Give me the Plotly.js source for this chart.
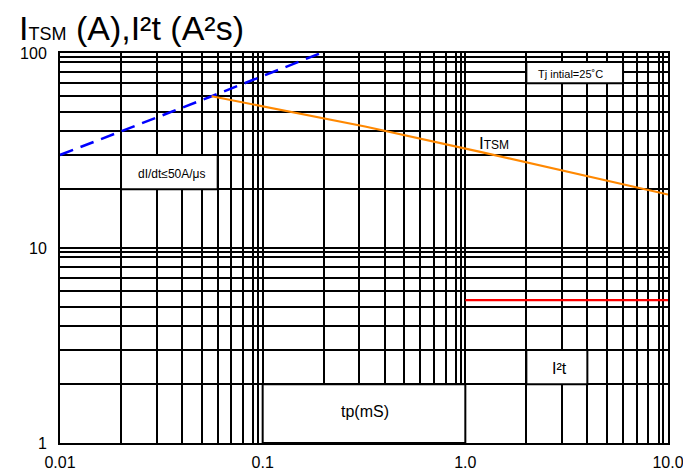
<!DOCTYPE html>
<html>
<head>
<meta charset="utf-8">
<script src="https://cdn.plot.ly/plotly-3.0.1.min.js"></script>
<style>html,body{margin:0;padding:0;background:#fff;}#chart{width:683px;height:470px;}</style>
</head>
<body>
<div id="chart"></div>
<script>
// Data
const dIdtX = [0.01, 0.056, 0.194];
const dIdtY = [30, 60, 100];
const itsmX = [0.056, 0.32, 1.2, 10];
const itsmY = [60, 42, 31, 18.8];
const i2tX = [1, 10];
const i2tY = [5.4, 5.4];
const xTickVals = [0.01, 0.1, 1, 10];
const xTickText = ['0.01', '0.1', '1.0', '10.0'];
const yTickVals = [1, 10, 100];
const yTickText = ['1', '10', '100'];
const gridDigits = [2, 3, 4, 5, 6, 7, 8, 9, 9.5];

const xMinor = [];
[0.01, 0.1, 1].forEach(d => gridDigits.forEach(k => xMinor.push(d * k)));
const yMinor = [];
[1, 10].forEach(d => gridDigits.forEach(k => yMinor.push(d * k)));

const FONT = 'Arial, "Liberation Sans", sans-serif';

const traces = [
  {x: dIdtX, y: dIdtY, mode: 'lines', line: {color: '#0000ff', width: 2.5, dash: '14px,8px'}, hoverinfo: 'skip'},
  {x: itsmX, y: itsmY, mode: 'lines', line: {color: '#ff8800', width: 2.2}, hoverinfo: 'skip'},
  {x: i2tX, y: i2tY, mode: 'lines', line: {color: '#ff0000', width: 2.2}, hoverinfo: 'skip'}
];

function box(x0, x1, y0, y1) {
  return {type: 'rect', xref: 'x', yref: 'y', x0: x0, x1: x1, y0: y0, y1: y1,
          fillcolor: '#ffffff', line: {color: '#000000', width: 2}, layer: 'between'};
}

const layout = {
  width: 683, height: 470,
  margin: {l: 60, r: 15, t: 53, b: 27},
  paper_bgcolor: '#ffffff', plot_bgcolor: '#ffffff',
  showlegend: false,
  font: {family: FONT, color: '#000000'},
  xaxis: {
    type: 'log', range: [-2, 1],
    tickmode: 'array', tickvals: xTickVals, ticktext: xTickText,
    tickfont: {size: 16, family: FONT},
    ticks: '', ticklabelstandoff: 4, ticklabeloverflow: 'allow',
    showgrid: true, gridcolor: '#000000', gridwidth: 2,
    minor: {tickmode: 'array', tickvals: xMinor, showgrid: true, gridcolor: '#000000', gridwidth: 2, ticks: ''},
    showline: true, linecolor: '#000000', linewidth: 2, mirror: true,
    zeroline: false
  },
  yaxis: {
    type: 'log', range: [0, 2],
    tickmode: 'array', tickvals: yTickVals, ticktext: yTickText,
    tickfont: {size: 16, family: FONT},
    ticks: '', ticklabelstandoff: 8,
    showgrid: true, gridcolor: '#000000', gridwidth: 2,
    minor: {tickmode: 'array', tickvals: yMinor, showgrid: true, gridcolor: '#000000', gridwidth: 2, ticks: ''},
    showline: true, linecolor: '#000000', linewidth: 2, mirror: true,
    zeroline: false
  },
  shapes: [
    box(2, 6, 70, 90),
    box(0.02, 0.06, 20, 30),
    box(2, 4, 2, 3),
    box(0.1, 1, 1, 2)
  ],
  annotations: [
    {xref: 'paper', yref: 'paper', x: -0.07, y: 1.0, yshift: 4, xanchor: 'left', yanchor: 'bottom', showarrow: false,
     text: 'I<span style="font-size:18px">TSM</span> (A),I²t (A²s)', font: {size: 34, family: FONT}},
    {x: Math.log10(3.3), y: Math.log10(78.5), text: 'Tj intial=25˚C', showarrow: false, font: {size: 11, family: FONT}},
    {x: Math.log10(0.0357), y: Math.log10(24), text: 'dI/dt≤50A/μs', showarrow: false, font: {size: 12, family: FONT}},
    {x: Math.log10(1.39), y: Math.log10(34.2), text: 'I<span style="font-size:12px">TSM</span>', showarrow: false, font: {size: 17, family: FONT}},
    {x: Math.log10(2.93), y: Math.log10(2.4), text: 'I²t', showarrow: false, font: {size: 16, family: FONT}},
    {x: Math.log10(0.319), y: Math.log10(1.45), text: 'tp(mS)', showarrow: false, font: {size: 16, family: FONT}}
  ]
};

Plotly.newPlot('chart', traces, layout, {displayModeBar: false, staticPlot: true});
</script>
</body>
</html>
